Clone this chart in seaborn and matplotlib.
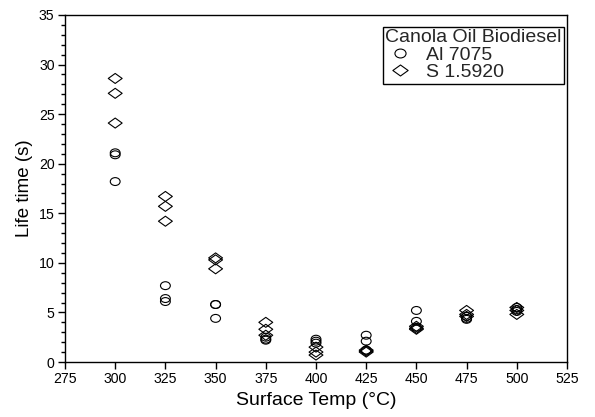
import matplotlib
matplotlib.use("Agg")
import matplotlib.pyplot as plt
import seaborn as sns
import pandas as pd
from matplotlib.path import Path
from matplotlib.transforms import Affine2D
from matplotlib.ticker import MultipleLocator
from matplotlib.lines import Line2D

temps = [300, 325, 350, 375, 400, 425, 450, 475, 500]
al7075 = [
    [21.1, 20.9, 18.2],
    [7.7, 6.4, 6.1],
    [5.8, 5.8, 4.4],
    [2.5, 2.3, 2.2],
    [2.3, 2.1, 1.9],
    [2.7, 2.1, 1.2],
    [5.2, 4.1, 3.5],
    [4.6, 4.4, 4.3],
    [5.5, 5.3, 5.1],
]
s15920 = [
    [28.6, 27.1, 24.1],
    [16.7, 15.7, 14.2],
    [10.5, 10.3, 9.4],
    [4.0, 3.3, 2.7],
    [1.5, 1.0, 0.7],
    [1.2, 1.1, 1.0],
    [3.6, 3.4, 3.3],
    [5.2, 4.8, 4.6],
    [5.5, 5.2, 4.8],
]
series_names = ["Al 7075", "S 1.5920"]
legend_title = "Canola Oil Biodiesel"

rows = []
for name, vals in zip(series_names, [al7075, s15920]):
    for t, vs in zip(temps, vals):
        for v in vs:
            rows.append({"Temp": t, "Life": v, "Material": name})
df = pd.DataFrame(rows)

sns.set_style("ticks")
plt.rcParams['font.family'] = ['Liberation Sans', 'DejaVu Sans']

fig = plt.figure(figsize=(5.95, 4.17), dpi=100)
ax = fig.add_axes([65/595, 1-362/417, (567-65)/595, (362-15)/417])

circ = Path.unit_circle().transformed(Affine2D().scale(1.25, 1.0))
diam = Path([(-1.0, 0.0), (0.0, 0.72), (1.0, 0.0), (0.0, -0.72), (-1.0, 0.0)],
            [Path.MOVETO, Path.LINETO, Path.LINETO, Path.LINETO, Path.CLOSEPOLY])

for name, mk, size in [(series_names[0], circ, 50), (series_names[1], diam, 100)]:
    sub = df[df["Material"] == name]
    sns.scatterplot(data=sub, x="Temp", y="Life", marker=mk, s=size,
                    facecolor="none", edgecolor="black", linewidth=0.8,
                    ax=ax, legend=False)
for coll in ax.collections:
    coll.set_facecolor("none")
    coll.set_edgecolor("black")

ax.set_xlim(275, 525)
ax.set_ylim(0, 35)
ax.xaxis.set_major_locator(MultipleLocator(25))
ax.yaxis.set_major_locator(MultipleLocator(5))
ax.yaxis.set_minor_locator(MultipleLocator(1))
ax.tick_params(axis='both', which='major', direction='out', length=5, width=1,
               labelsize=10.2, color='black', labelcolor='black', pad=2.5)
ax.tick_params(axis='y', which='minor', direction='out', length=3, width=1, color='black')
for sp in ax.spines.values():
    sp.set_visible(True)
    sp.set_color('black')
    sp.set_linewidth(1)

ax.set_xlabel("Surface Temp (°C)", fontsize=14, color='black', labelpad=4)
ax.set_ylabel("Life time (s)", fontsize=13.5, color='black', labelpad=4)

handles = [Line2D([], [], linestyle='none', marker=circ, markersize=8,
                  markerfacecolor='none', markeredgecolor='black', markeredgewidth=0.8),
           Line2D([], [], linestyle='none', marker=diam, markersize=11,
                  markerfacecolor='none', markeredgecolor='black', markeredgewidth=0.8)]
leg = ax.legend(handles, series_names, title=legend_title, loc='upper right',
                bbox_to_anchor=(0.998, 0.972), frameon=True, fancybox=False,
                edgecolor='black', fontsize=14, title_fontsize=14,
                borderpad=0.12, handletextpad=0.6, labelspacing=0.0,
                handlelength=1.5, borderaxespad=0.1, framealpha=1)
leg._legend_box.align = "left"
leg._legend_box.sep = 0
leg.get_frame().set_linewidth(1)

fig.savefig("out.png", dpi=100)
